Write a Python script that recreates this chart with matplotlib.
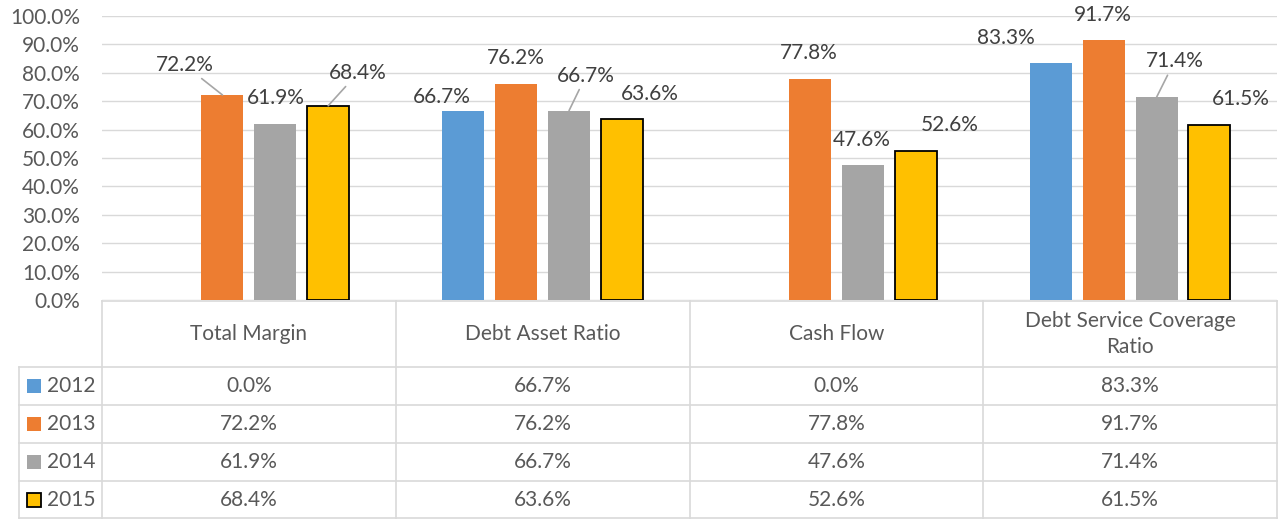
import numpy as np
import matplotlib
matplotlib.use("Agg")
import matplotlib.pyplot as plt
import matplotlib.transforms as mtransforms

plt.rcParams['font.family'] = ['Lato', 'DejaVu Sans']

# data
categories = ["Total Margin", "Debt Asset Ratio", "Cash Flow", "Debt Service Coverage\nRatio"]
years = ["2012", "2013", "2014", "2015"]
v2012 = [0.0, 66.7, 0.0, 83.3]
v2013 = [72.2, 76.2, 77.8, 91.7]
v2014 = [61.9, 66.7, 47.6, 71.4]
v2015 = [68.4, 63.6, 52.6, 61.5]
series = [v2012, v2013, v2014, v2015]
yticks = [0, 10, 20, 30, 40, 50, 60, 70, 80, 90, 100]

colors = ["#5B9BD5", "#ED7D31", "#A5A5A5", "#FFC000"]

# label placement (pixel offsets from bar top), leader line flag
label_offsets = [
    [None, (-21, 14), None, (-45, 25)],
    [(-38, 30), (0, 26), (-1, 26), (-1, 25)],
    [(0, 26), (17, 35), (-1, 25), (18, 36)],
    [(30, 33), (28, 25), (34, 26), (31, 26)],
]
leaders = [
    [False, False, False, False],
    [True, False, False, False],
    [False, True, False, True],
    [True, False, False, False],
]

W, H = 1288, 520
fig = plt.figure(figsize=(W / 100, H / 100), dpi=100)
ax = fig.add_axes([102 / W, 220 / H, 1175 / W, 284 / H])

x = np.arange(len(categories))
step, width = 0.18, 0.143
fs = 15
for i, vals in enumerate(series):
    pos = x + (i - 1.5) * step
    if i == 3:
        ax.bar(pos, vals, width, color=colors[i], edgecolor="black", linewidth=1.3, zorder=3)
    else:
        ax.bar(pos, vals, width, color=colors[i], linewidth=0, zorder=3)
    for j, v in enumerate(vals):
        off = label_offsets[i][j]
        if off is None or v == 0:
            continue
        ap = None
        if leaders[i][j]:
            ap = dict(arrowstyle="-", color="#A6A6A6", lw=1.2, shrinkA=1, shrinkB=0)
        ax.annotate(f"{v:.1f}%", xy=(pos[j], v), xytext=off, textcoords="offset pixels",
                    ha="center", va="center", fontsize=fs, color="#404040",
                    arrowprops=ap, zorder=4)

ax.set_xlim(-0.5, 3.5)
ax.set_ylim(0, 100)
ax.set_yticks(yticks)
ax.set_yticklabels([f"{t:.1f}%" for t in yticks], fontsize=fs, color="#595959")
ax.set_xticks([])
ax.tick_params(axis="y", length=0, pad=16)
ax.grid(axis="y", color="#D9D9D9", linewidth=1.0, zorder=0)
for s in ax.spines.values():
    s.set_visible(False)

# data table below
tax = fig.add_axes([0, 0, 1, 1])
tax.set_xlim(0, W)
tax.set_ylim(H, 0)
tax.axis("off")
tr = mtransforms.blended_transform_factory(ax.transData, tax.transData)
gc = "#D9D9D9"
lw = 1.2
rows = [301, 367, 405, 443, 481, 518]
left, colx = 19, 102
# horizontal lines
tax.plot([colx, W - 11], [rows[0], rows[0]], color=gc, lw=lw)
for r in rows[1:]:
    tax.plot([left, W - 11], [r, r], color=gc, lw=lw)
# vertical lines
for b in np.arange(-0.5, 4.0, 1.0):
    tax.plot([b, b], [rows[0], rows[-1]], color=gc, lw=lw, transform=tr)
tax.plot([left, left], [rows[1], rows[-1]], color=gc, lw=lw)

for j, c in enumerate(categories):
    tax.text(j, (rows[0] + rows[1]) / 2, c, transform=tr, ha="center", va="center",
             fontsize=fs, color="#595959", linespacing=1.35)
for i, vals in enumerate(series):
    yc = (rows[i + 1] + rows[i + 2]) / 2
    for j, v in enumerate(vals):
        tax.text(j, yc, f"{v:.1f}%", transform=tr, ha="center", va="center",
                 fontsize=fs, color="#595959")
    ec = "black" if i == 3 else colors[i]
    tax.add_patch(plt.Rectangle((27, yc - 7), 14, 14, facecolor=colors[i], edgecolor=ec,
                                linewidth=1.3 if i == 3 else 0))
    tax.text(47, yc, years[i], ha="left", va="center", fontsize=fs, color="#595959")

fig.savefig("out.png", dpi=100)
